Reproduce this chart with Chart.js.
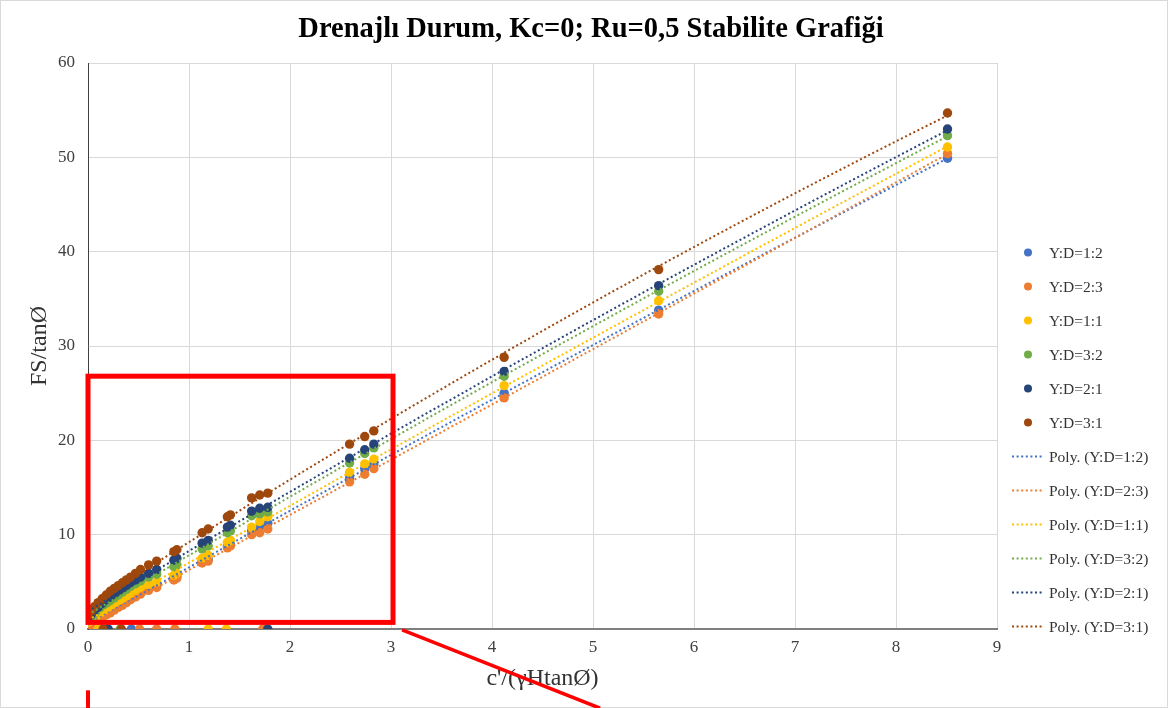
<!DOCTYPE html>
<html>
<head>
<meta charset="utf-8">
<script src="https://cdn.jsdelivr.net/npm/chart.js@4.4.1/dist/chart.umd.min.js"></script>
<style>
  html, body { margin: 0; padding: 0; background: #ffffff; }
  #wrap { width: 1168px; height: 708px; position: relative; }
  canvas { display: block; }
</style>
</head>
<body>
<div id="wrap"><canvas id="c" width="1168" height="708"></canvas></div>
<script>
// ---------------- DATA ----------------
const chartTitle = "Drenajlı Durum, Kc=0; Ru=0,5 Stabilite Grafiği";
const seriesNames = ["Y:D=1:2", "Y:D=2:3", "Y:D=1:1", "Y:D=3:2", "Y:D=2:1", "Y:D=3:1"];

// shared x positions c'/(γHtanØ)
const xValues = [0, 0.03, 0.06, 0.1, 0.14, 0.18, 0.22, 0.26, 0.3, 0.34, 0.38, 0.42, 0.47, 0.52, 0.6, 0.68,
                 0.85, 0.88, 1.13, 1.19, 1.38, 1.41, 1.62, 1.7, 1.78, 2.59, 2.74, 2.83, 4.12, 5.65, 8.51];

// FS/tanØ values per series
const yD12 = [0.3, 0.5, 0.7, 1.0, 1.3, 1.6, 1.9, 2.1, 2.4, 2.7, 2.9, 3.2, 3.5, 3.8, 4.3, 4.6,
              5.4, 5.6, 7.2, 7.4, 8.8, 9.0, 10.4, 10.8, 11.2, 16.0, 17.0, 17.5, 25.0, 33.8, 49.9];
const yD23 = [0.2, 0.4, 0.6, 0.9, 1.2, 1.5, 1.7, 2.0, 2.3, 2.5, 2.8, 3.1, 3.4, 3.7, 4.1, 4.4,
              5.2, 5.4, 7.0, 7.2, 8.6, 8.8, 10.0, 10.2, 10.6, 15.6, 16.4, 17.0, 24.5, 33.4, 50.4];
const yD11 = [0.7, 0.9, 1.2, 1.5, 1.8, 2.1, 2.4, 2.7, 3.0, 3.2, 3.5, 3.8, 4.1, 4.4, 4.7, 5.0,
              5.7, 5.9, 7.5, 7.8, 9.2, 9.4, 10.8, 11.4, 11.9, 16.6, 17.5, 18.0, 25.8, 34.8, 51.1];
const yD32 = [1.0, 1.3, 1.6, 2.0, 2.4, 2.7, 3.0, 3.3, 3.6, 3.9, 4.2, 4.5, 4.8, 5.1, 5.5, 5.8,
              6.6, 6.8, 8.5, 8.8, 10.2, 10.4, 12.0, 12.2, 12.4, 17.6, 18.6, 19.2, 26.8, 35.8, 52.3];
const yD21 = [1.2, 1.5, 1.9, 2.3, 2.7, 3.1, 3.4, 3.7, 4.0, 4.3, 4.6, 4.9, 5.2, 5.5, 5.9, 6.3,
              7.3, 7.5, 9.1, 9.4, 10.8, 11.0, 12.5, 12.8, 12.9, 18.1, 19.0, 19.6, 27.3, 36.4, 53.0];
const yD31 = [1.5, 1.9, 2.3, 2.8, 3.2, 3.6, 4.0, 4.3, 4.6, 4.9, 5.2, 5.5, 5.9, 6.3, 6.8, 7.2,
              8.2, 8.4, 10.2, 10.6, 11.9, 12.1, 13.9, 14.2, 14.4, 19.6, 20.4, 21.0, 28.8, 38.1, 54.7];

// points lying on the x axis (FS/tanØ = 0) for each series
const zeroX12 = [0.05, 0.43];
const zeroX23 = [0.51, 0.68, 0.86, 1.73];
const zeroX11 = [0.1, 1.19, 1.37];
const zeroX32 = [0.32];
const zeroX21 = [0.2, 1.78];
const zeroX31 = [0.15, 0.33];

const xTicks = [0, 1, 2, 3, 4, 5, 6, 7, 8, 9];
const yTicks = [0, 10, 20, 30, 40, 50, 60];

// zoom-box annotation (in data units)
const boxX = [0, 3.02];
const boxY = [0.7, 26.8];
const calloutFrom = [3.11, -0.1];
const calloutTo = [5.07, -8.4];
const calloutLeft = [[0, -6.5], [0, -8.6]];

// ---------------- STYLE ----------------
const colors = ["#4472C4", "#ED7D31", "#FFC000", "#70AD47", "#264478", "#9E480E"];
const serif = "'Liberation Serif', 'Times New Roman', serif";
const dotDash = [2, 2.6];

const ySeries = [yD12, yD23, yD11, yD32, yD21, yD31];
const zeroSeries = [zeroX12, zeroX23, zeroX11, zeroX32, zeroX21, zeroX31];

// quadratic least-squares fit (Excel "Poly." trendline, order 2)
function polyfit2(xs, ys) {
  let n = xs.length, sx = 0, sx2 = 0, sx3 = 0, sx4 = 0, sy = 0, sxy = 0, sx2y = 0;
  for (let i = 0; i < n; i++) {
    const x = xs[i], y = ys[i];
    sx += x; sx2 += x * x; sx3 += x * x * x; sx4 += x * x * x * x;
    sy += y; sxy += x * y; sx2y += x * x * y;
  }
  const A = [[n, sx, sx2, sy], [sx, sx2, sx3, sxy], [sx2, sx3, sx4, sx2y]];
  for (let i = 0; i < 3; i++) {
    let p = i;
    for (let r = i + 1; r < 3; r++) if (Math.abs(A[r][i]) > Math.abs(A[p][i])) p = r;
    [A[i], A[p]] = [A[p], A[i]];
    for (let r = 0; r < 3; r++) {
      if (r === i) continue;
      const f = A[r][i] / A[i][i];
      for (let c = i; c < 4; c++) A[r][c] -= f * A[i][c];
    }
  }
  return [A[0][3] / A[0][0], A[1][3] / A[1][1], A[2][3] / A[2][2]];
}

const datasets = [];
seriesNames.forEach((name, i) => {
  const pts = xValues.map((x, k) => ({ x: x, y: ySeries[i][k] }));
  zeroSeries[i].forEach(x => pts.push({ x: x, y: 0 }));
  datasets.push({
    label: name, data: pts, showLine: false,
    pointRadius: 4.7, pointHoverRadius: 4.7, pointBorderWidth: 0,
    pointBackgroundColor: colors[i], pointBorderColor: colors[i],
    backgroundColor: colors[i], borderColor: colors[i],
    order: 100 - i
  });
});
seriesNames.forEach((name, i) => {
  const c = polyfit2(xValues, ySeries[i]);
  const xmin = Math.min(...xValues), xmax = Math.max(...xValues);
  const line = [];
  const steps = 60;
  for (let s = 0; s <= steps; s++) {
    const x = xmin + (xmax - xmin) * s / steps;
    line.push({ x: x, y: c[0] + c[1] * x + c[2] * x * x });
  }
  datasets.push({
    label: "Poly. (" + name + ")", data: line, showLine: true,
    pointRadius: 0, borderColor: colors[i], borderWidth: 2,
    borderDash: dotDash, borderCapStyle: "butt", fill: false,
    order: 50 - i
  });
});

// ---------------- PLUGINS ----------------
const framePlugin = {
  id: "frame",
  beforeDraw(chart) {
    const ctx = chart.ctx;
    ctx.save();
    ctx.fillStyle = "#ffffff";
    ctx.fillRect(0, 0, chart.width, chart.height);
    ctx.strokeStyle = "#d9d9d9";
    ctx.lineWidth = 1;
    ctx.strokeRect(0.5, 0.5, chart.width - 1, chart.height - 1);
    ctx.font = "bold 28.5px " + serif;
    ctx.fillStyle = "#000000";
    ctx.textAlign = "center";
    ctx.textBaseline = "middle";
    ctx.fillText(chartTitle, 591, 30);
    ctx.restore();
  }
};

const legendPlugin = {
  id: "customLegend",
  afterDraw(chart) {
    const ctx = chart.ctx;
    const top = 252.5, step = 34.0;
    ctx.save();
    ctx.font = "15.5px " + serif;
    ctx.textBaseline = "middle";
    chart.data.datasets.forEach((ds, i) => {
      const y = top + i * step;
      if (!ds.showLine) {
        ctx.beginPath();
        ctx.fillStyle = ds.pointBackgroundColor;
        ctx.arc(1028, y, 4, 0, Math.PI * 2);
        ctx.fill();
      } else {
        ctx.beginPath();
        ctx.strokeStyle = ds.borderColor;
        ctx.lineWidth = 1.8;
        ctx.setLineDash(dotDash);
        ctx.moveTo(1012, y);
        ctx.lineTo(1043, y);
        ctx.stroke();
        ctx.setLineDash([]);
      }
      ctx.fillStyle = "#333333";
      ctx.fillText(ds.label, 1049, y + 1);
    });
    ctx.restore();
  }
};

const annotatePlugin = {
  id: "zoomBox",
  afterDraw(chart) {
    const xs = chart.scales.x, ys = chart.scales.y, ctx = chart.ctx;
    const px = v => xs.getPixelForValue(v), py = v => ys.getPixelForValue(v);
    ctx.save();
    ctx.strokeStyle = "#ff0000";
    ctx.lineWidth = 5;
    ctx.lineJoin = "miter";
    ctx.strokeRect(px(boxX[0]), py(boxY[1]), px(boxX[1]) - px(boxX[0]), py(boxY[0]) - py(boxY[1]));
    ctx.lineWidth = 3.5;
    ctx.beginPath();
    ctx.moveTo(px(calloutFrom[0]), py(calloutFrom[1]));
    ctx.lineTo(px(calloutTo[0]), py(calloutTo[1]));
    ctx.stroke();
    ctx.lineWidth = 4;
    ctx.beginPath();
    ctx.moveTo(px(calloutLeft[0][0]), py(calloutLeft[0][1]));
    ctx.lineTo(px(calloutLeft[1][0]), py(calloutLeft[1][1]));
    ctx.stroke();
    ctx.restore();
  }
};

// ---------------- CHART ----------------
new Chart(document.getElementById("c"), {
  type: "scatter",
  data: { datasets: datasets },
  plugins: [framePlugin, legendPlugin, annotatePlugin],
  options: {
    responsive: false,
    animation: false,
    devicePixelRatio: 1,
    layout: { padding: { left: 0, right: 171, top: 63, bottom: 0 } },
    plugins: {
      legend: { display: false },
      tooltip: { enabled: false },
      title: { display: false }
    },
    scales: {
      x: {
        type: "linear", min: 0, max: 9,
        afterBuildTicks(scale) { scale.ticks = xTicks.map(v => ({ value: v })); },
        afterFit(scale) { scale.height = 79; },
        ticks: { color: "#404040", font: { family: serif, size: 17 }, padding: 8 },
        grid: { color: "#d9d9d9", lineWidth: 1, drawTicks: false },
        border: { display: true, color: "#7f7f7f", width: 2 },
        title: {
          display: true, text: "c'/(γHtanØ)", color: "#333333",
          font: { family: serif, size: 24 }, padding: { top: 0, bottom: 15 }
        }
      },
      y: {
        type: "linear", min: 0, max: 60,
        afterBuildTicks(scale) { scale.ticks = yTicks.map(v => ({ value: v })); },
        afterFit(scale) { scale.width = 88; },
        ticks: { color: "#404040", font: { family: serif, size: 17 }, padding: 13 },
        grid: { color: "#d9d9d9", lineWidth: 1, drawTicks: false },
        border: { display: true, color: "#404040", width: 1 },
        title: {
          display: true, text: "FS/tanØ", color: "#333333",
          font: { family: serif, size: 24 }, padding: { top: 25, bottom: 0 }
        }
      }
    }
  }
});
</script>
</body>
</html>
